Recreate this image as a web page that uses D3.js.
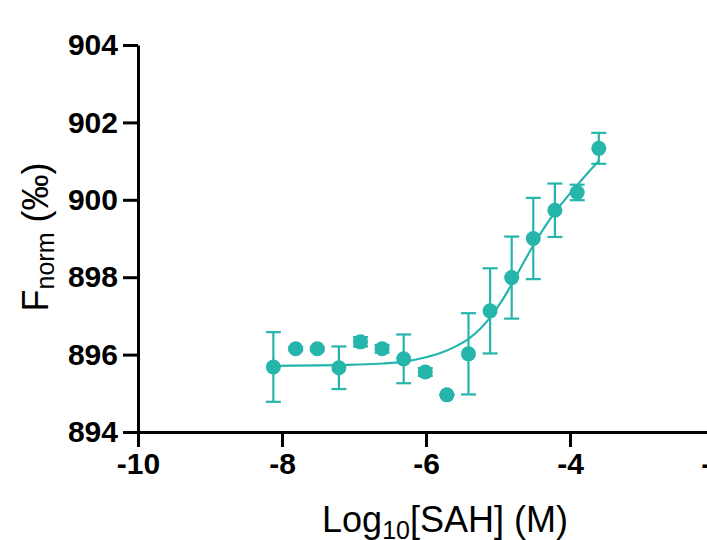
<!DOCTYPE html>
<html>
<head>
<meta charset="utf-8">
<script src="https://cdn.jsdelivr.net/npm/d3@7"></script>
<style>
  body { margin: 0; background: white; }
  svg { display: block; }
</style>
</head>
<body>
<div id="chart"></div>
<script>
// log10 of SAH concentration (M), 2-fold dilutions
const logConc = [-8.12, -7.81, -7.51, -7.21, -6.91, -6.61, -6.31, -6.01, -5.71, -5.41, -5.11, -4.81, -4.51, -4.21, -3.90, -3.60];
// Fnorm mean values and error (SD)
const fnorm = [895.68, 896.15, 896.15, 895.66, 896.33, 896.15, 895.89, 895.55, 894.96, 896.02, 897.13, 897.99, 899.0, 899.73, 900.19, 901.33];
const fnormErr = [0.9, 0.04, 0.04, 0.55, 0.12, 0.1, 0.63, 0.1, 0.0, 1.05, 1.1, 1.06, 1.05, 0.69, 0.2, 0.4];

// fitted curve
const fitX = [-8.12, -7.5, -7.0, -6.6, -6.3, -6.0, -5.8, -5.6, -5.4, -5.25, -5.1, -4.95, -4.8, -4.65, -4.5, -4.35, -4.2, -4.05, -3.9, -3.75, -3.6];
const fitY = [895.71, 895.72, 895.74, 895.77, 895.82, 895.93, 896.04, 896.2, 896.42, 896.66, 896.98, 897.38, 897.85, 898.36, 898.85, 899.3, 899.7, 900.05, 900.38, 900.7, 901.0];

// tick labels
const xTicks = [-10, -8, -6, -4, -2];
const yTicks = [894, 896, 898, 900, 902, 904];

const width = 707;
const height = 540;
const teal = "#25b5ab";

const svg = d3.select("#chart")
  .append("svg")
  .attr("width", width)
  .attr("height", height);

const x = d3.scaleLinear().domain([-10, -2]).range([138, 714]);
const y = d3.scaleLinear().domain([894, 904]).range([432, 45]);

/* AXES */
svg.append("g")
  .attr("transform", "translate(0," + y(894) + ")")
  .call(d3.axisBottom(x)
    .tickValues(xTicks)
    .tickSize(15)
    .tickSizeOuter(0)
    .tickPadding(6)
    .tickFormat(function(d) { return String(d); }));

svg.append("g")
  .attr("transform", "translate(" + x(-10) + ",0)")
  .call(d3.axisLeft(y)
    .tickValues(yTicks)
    .tickSize(15)
    .tickSizeOuter(0)
    .tickPadding(5)
    .tickFormat(function(d) { return String(d); }));

svg.selectAll(".domain, .tick line")
  .attr("stroke", "black")
  .attr("stroke-width", 3);

svg.selectAll(".tick text")
  .attr("fill", "black")
  .style("font-family", "'Liberation Sans', Arial, sans-serif")
  .style("font-weight", "bold")
  .style("font-size", "30px");

/* AXIS TITLES */
const xTitle = svg.append("text")
  .attr("x", 445)
  .attr("y", 532)
  .attr("text-anchor", "middle")
  .style("font-family", "'Liberation Sans', Arial, sans-serif")
  .style("font-size", "36px");
xTitle.append("tspan").text("Log");
xTitle.append("tspan").attr("dy", 7).style("font-size", "25px").text("10");
xTitle.append("tspan").attr("dy", -7).text("[SAH] (M)");

const yTitle = svg.append("text")
  .attr("transform", "translate(48,237) rotate(-90)")
  .attr("text-anchor", "middle")
  .style("font-family", "'Liberation Sans', Arial, sans-serif")
  .style("font-size", "36px");
yTitle.append("tspan").text("F");
yTitle.append("tspan").attr("dy", 6).style("font-size", "25px").text("norm");
yTitle.append("tspan").attr("dy", -6).text(" (\u2030)");

/* FIT CURVE */
const fitData = fitX.map(function(d, i) { return { x: d, y: fitY[i] }; });
svg.append("path")
  .datum(fitData)
  .attr("fill", "none")
  .attr("stroke", teal)
  .attr("stroke-width", 2.2)
  .attr("d", d3.line()
    .x(function(d) { return x(d.x); })
    .y(function(d) { return y(d.y); })
    .curve(d3.curveMonotoneX));

/* ERROR BARS + POINTS */
const points = logConc.map(function(d, i) {
  return { x: d, y: fnorm[i], e: fnormErr[i] };
});

const bars = svg.selectAll(".err")
  .data(points)
  .enter()
  .append("g")
  .attr("class", "err")
  .attr("stroke", teal)
  .attr("stroke-width", 2.2);

bars.append("line")
  .attr("x1", function(d) { return x(d.x); })
  .attr("x2", function(d) { return x(d.x); })
  .attr("y1", function(d) { return y(d.y - d.e); })
  .attr("y2", function(d) { return y(d.y + d.e); });

bars.append("line")
  .attr("x1", function(d) { return x(d.x) - 7.5; })
  .attr("x2", function(d) { return x(d.x) + 7.5; })
  .attr("y1", function(d) { return y(d.y + d.e); })
  .attr("y2", function(d) { return y(d.y + d.e); });

bars.append("line")
  .attr("x1", function(d) { return x(d.x) - 7.5; })
  .attr("x2", function(d) { return x(d.x) + 7.5; })
  .attr("y1", function(d) { return y(d.y - d.e); })
  .attr("y2", function(d) { return y(d.y - d.e); });

svg.selectAll(".pt")
  .data(points)
  .enter()
  .append("circle")
  .attr("class", "pt")
  .attr("cx", function(d) { return x(d.x); })
  .attr("cy", function(d) { return y(d.y); })
  .attr("r", 7.5)
  .attr("fill", teal);
</script>
</body>
</html>
